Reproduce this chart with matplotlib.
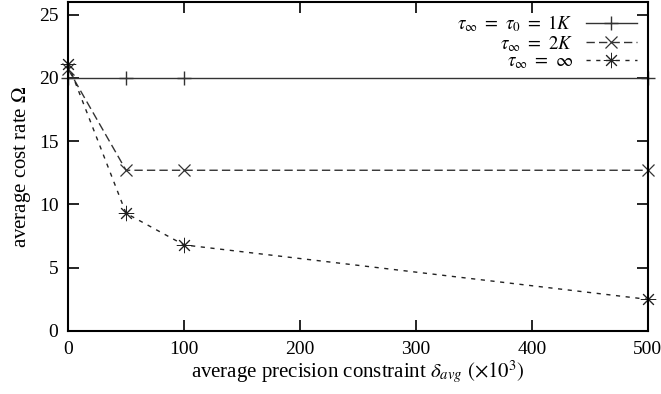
import matplotlib
matplotlib.use("Agg")
import matplotlib.pyplot as plt

plt.rcParams['font.family'] = ['Liberation Serif', 'DejaVu Serif']
plt.rcParams['mathtext.fontset'] = 'stix'

# data
delta_avg = [0, 50, 100, 500]
tau_1k = [20.0, 20.0, 20.0, 20.0]
tau_2k = [20.7, 12.7, 12.7, 12.7]
tau_inf = [21.1, 9.3, 6.8, 2.5]

labels = [r'$\tau_\infty\ =\ \tau_0\ =\ 1K$', r'$\tau_\infty\ =\ 2K$', r'$\tau_\infty\ =\ \infty$']
x_ticks = [0, 100, 200, 300, 400, 500]
y_ticks = [0, 5, 10, 15, 20, 25]

fig = plt.figure(figsize=(6.61, 3.94), dpi=100)
ax = fig.add_axes([0.103, 0.160, 0.877, 0.835])

ax.plot(delta_avg, tau_1k, color='#333333', lw=1.0, ls='-',
        marker='+', ms=10, mew=1.0, label=labels[0], clip_on=False)
ax.plot(delta_avg, tau_2k, color='#333333', lw=1.0, ls=(0, (6, 3)),
        marker='x', ms=9, mew=0.9, label=labels[1], clip_on=False)
ax.plot(delta_avg, tau_inf, color='#222222', lw=1.0, ls=(0, (3, 4)),
        marker=(8, 2, 0), ms=11, mew=0.7, label=labels[2], clip_on=False)

ax.set_xlim(0, 500)
ax.set_ylim(0, 26)
ax.set_xticks(x_ticks)
ax.set_yticks(y_ticks)
ax.tick_params(direction='in', top=True, right=True, length=8, width=1.2,
               labelsize=14, pad=7)
for s in ax.spines.values():
    s.set_linewidth(1.5)

ax.set_xlabel(r'average precision constraint $\delta_{avg}$ $(\times 10^3)$', fontsize=15, labelpad=1)
ax.set_ylabel(r'average cost rate $\Omega$', fontsize=15, labelpad=4)

ax.legend(loc='upper right', frameon=False, markerfirst=False, fontsize=13.5,
          handlelength=2.7, handletextpad=0.7, labelspacing=0.0,
          borderaxespad=0.3, borderpad=0.3)

fig.savefig('out.png', dpi=100)
